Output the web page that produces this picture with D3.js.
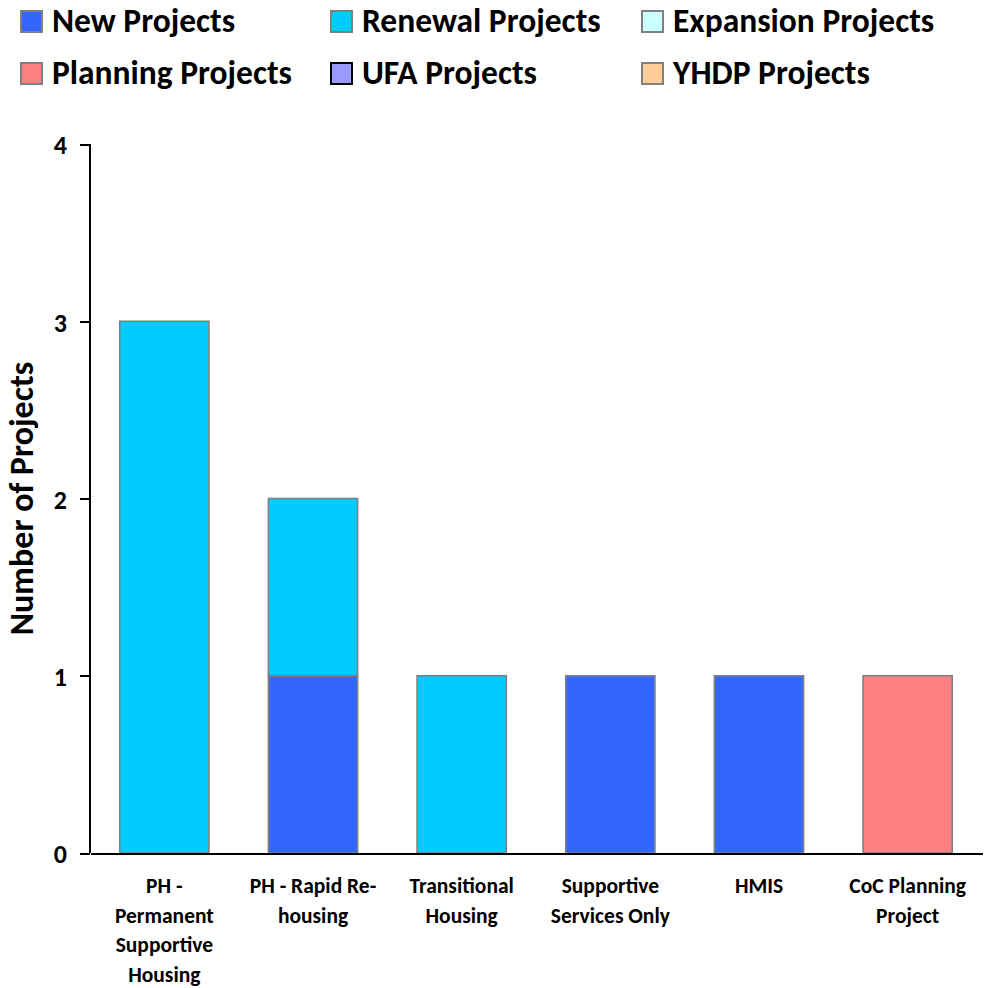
<!DOCTYPE html>
<html lang="en">
<head>
    <meta charset="UTF-8">
    <title>Projects by Component Type</title>
    <script src="https://d3js.org/d3.v7.min.js"></script>
    <style>
        body { margin: 0; background: #fff; }
        text { font-family: Carlito, Lato, sans-serif; font-weight: bold; fill: #000; }
        .axis path, .axis line { stroke: #000; stroke-width: 2px; shape-rendering: crispEdges; }
        .axis text { font-size: 26px; }
        .cat text { font-size: 21.5px; }
        .legend text { font-size: 33.5px; }
    </style>
</head>
<body>
    <div id="chart"></div>
    <script>
        // chart values
        var categories = ["PH -\nPermanent\nSupportive\nHousing", "PH - Rapid Re-\nhousing",
            "Transitional\nHousing", "Supportive\nServices Only", "HMIS", "CoC Planning\nProject"];
        var seriesNames = ["New Projects", "Renewal Projects", "Expansion Projects",
            "Planning Projects", "UFA Projects", "YHDP Projects"];
        var newProjects = [0, 1, 0, 1, 1, 0];
        var renewalProjects = [3, 1, 1, 0, 0, 0];
        var expansionProjects = [0, 0, 0, 0, 0, 0];
        var planningProjects = [0, 0, 0, 0, 0, 1];
        var ufaProjects = [0, 0, 0, 0, 0, 0];
        var yhdpProjects = [0, 0, 0, 0, 0, 0];
        var yTicks = [0, 1, 2, 3, 4];

        var seriesColors = ["#3366ff", "#00ccff", "#ccffff", "#ff8080", "#9999ff", "#ffcc99"];
        var swatchStroke = ["#808080", "#808080", "#808080", "#808080", "#000", "#808080"];

        var width = 989, height = 988;
        var plot = { left: 90, right: 982, top: 144, bottom: 853 };

        var svg = d3.select("#chart").append("svg")
            .attr("width", width)
            .attr("height", height);

        var allSeries = [newProjects, renewalProjects, expansionProjects,
            planningProjects, ufaProjects, yhdpProjects];
        var table = categories.map(function (c, i) {
            var row = { cat: c };
            seriesNames.forEach(function (s, j) { row[s] = allSeries[j][i]; });
            return row;
        });

        var stacked = d3.stack().keys(seriesNames)(table);

        var x = d3.scaleBand()
            .domain(categories)
            .range([plot.left, plot.right])
            .paddingInner(0.4)
            .paddingOuter(0.2);

        var y = d3.scaleLinear()
            .domain([0, 4])
            .range([plot.bottom, plot.top]);

        var color = d3.scaleOrdinal().domain(seriesNames).range(seriesColors);

        // bars
        svg.append("g").selectAll("g")
            .data(stacked)
            .enter().append("g")
            .attr("fill", function (d) { return color(d.key); })
            .selectAll("rect")
            .data(function (d) { return d.filter(function (p) { return p[1] - p[0] > 0; }); })
            .enter().append("rect")
            .attr("x", function (d) { return x(d.data.cat); })
            .attr("y", function (d) { return y(d[1]); })
            .attr("width", x.bandwidth())
            .attr("height", function (d) { return y(d[0]) - y(d[1]); })
            .attr("stroke", "#808080")
            .attr("stroke-width", 1.6);

        // y axis
        var yAxis = svg.append("g")
            .attr("class", "axis")
            .attr("transform", "translate(" + plot.left + ",0)")
            .call(d3.axisLeft(y).tickValues(yTicks).tickFormat(d3.format("d"))
                .tickSize(10).tickSizeOuter(0).tickPadding(13));
        yAxis.select(".domain").attr("d", "M0," + plot.top + "V" + plot.bottom);
        yAxis.selectAll("text").attr("dy", "0.38em");

        // x axis
        var xAxis = svg.append("g")
            .attr("class", "axis cat")
            .attr("transform", "translate(0," + plot.bottom + ")")
            .call(d3.axisBottom(x).tickSize(0).tickSizeOuter(0).tickPadding(0));
        xAxis.selectAll(".tick text").each(function (d) {
            var t = d3.select(this).text(null).attr("y", 0).attr("dy", null);
            d.split("\n").forEach(function (line, i) {
                t.append("tspan")
                    .attr("x", 0)
                    .attr("y", 40 + i * 29.5)
                    .text(line);
            });
        });

        // y title
        svg.append("text")
            .attr("transform", "translate(33," + ((plot.top + plot.bottom) / 2) + ") rotate(-90)")
            .attr("text-anchor", "middle")
            .style("font-size", "34px")
            .text("Number of Projects");

        // legend
        var legendX = [20, 330, 641], legendY = [10, 62];
        var legend = svg.append("g").attr("class", "legend")
            .selectAll("g")
            .data(seriesNames)
            .enter().append("g")
            .attr("transform", function (d, i) {
                return "translate(" + legendX[i % 3] + "," + legendY[Math.floor(i / 3)] + ")";
            });
        legend.append("rect")
            .attr("x", 1).attr("y", 1)
            .attr("width", 21).attr("height", 21)
            .attr("fill", function (d) { return color(d); })
            .attr("stroke", function (d, i) { return swatchStroke[i]; })
            .attr("stroke-width", 2);
        legend.append("text")
            .attr("x", 32)
            .attr("y", 11)
            .attr("dy", "0.34em")
            .text(function (d) { return d; });
    </script>
</body>
</html>
